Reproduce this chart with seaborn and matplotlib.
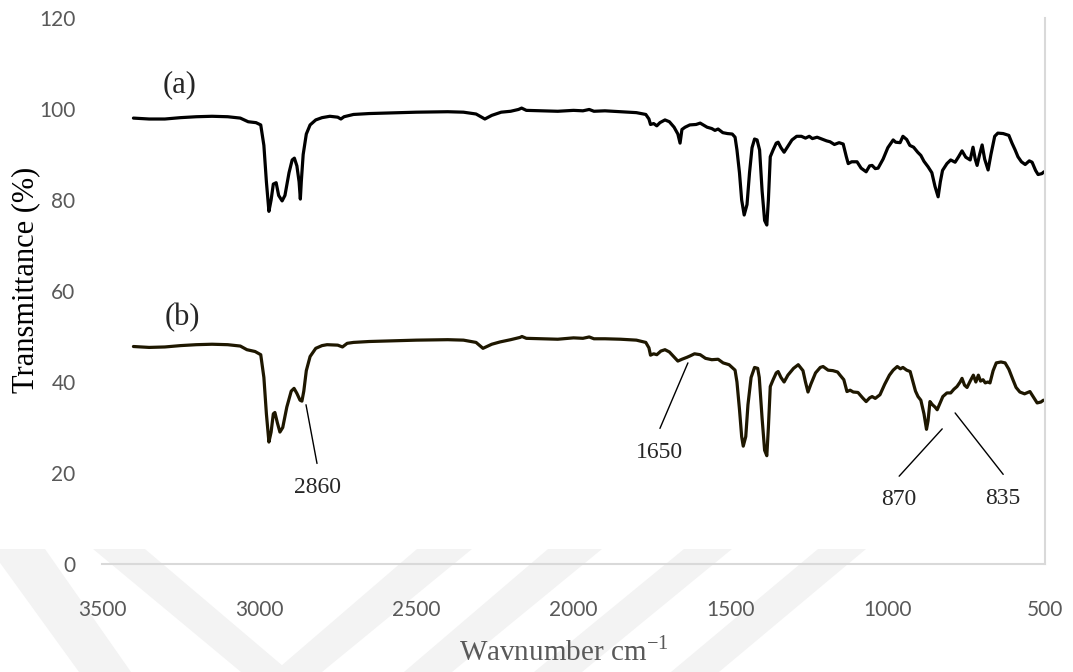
import pandas as pd
import matplotlib.pyplot as plt
import seaborn as sns
from matplotlib.patches import Polygon

# spectrum (a)
wn_a = [3400, 3350, 3300, 3250, 3200, 3150, 3100, 3060, 3035, 3010, 2995, 2985, 2977, 2969, 2962, 2955,
        2946, 2938, 2927, 2918, 2905, 2895, 2888, 2880, 2873, 2869, 2866, 2860, 2850, 2838, 2820, 2800,
        2775, 2750, 2740, 2730, 2700, 2650, 2600, 2500, 2400, 2350, 2310, 2282, 2260, 2230, 2200, 2175,
        2165, 2150, 2100, 2050, 2000, 1970, 1950, 1935, 1900, 1850, 1800, 1770, 1760, 1755, 1745, 1735,
        1725, 1709, 1695, 1680, 1668, 1661, 1655, 1645, 1630, 1610, 1597, 1575, 1560, 1550, 1540, 1525,
        1510, 1495, 1486, 1480, 1472, 1465, 1457, 1448, 1440, 1432, 1424, 1416, 1408, 1400, 1392, 1385,
        1380, 1374, 1365, 1355, 1349, 1340, 1330, 1318, 1305, 1290, 1275, 1262, 1250, 1240, 1225, 1210,
        1195, 1184, 1170, 1155, 1142, 1132, 1126, 1115, 1098, 1085, 1069, 1058, 1050, 1040, 1031, 1015,
        1000, 983, 975, 961, 952, 940, 930, 918, 905, 895, 885, 872, 860, 850, 840, 833,
        826, 812, 800, 786, 775, 764, 752, 738, 729, 722, 716, 708, 700, 692, 681, 672,
        660, 650, 633, 615, 605, 595, 586, 575, 563, 550, 541, 530, 522, 510, 503]
t_a = [98.0, 97.8, 97.8, 98.1, 98.3, 98.4, 98.3, 98.0, 97.2, 97.0, 96.5, 92.0, 84.0, 77.5, 80.0, 83.5,
       83.8, 81.0, 79.8, 81.0, 86.0, 88.8, 89.2, 87.5, 84.0, 80.2, 84.0, 90.0, 94.5, 96.5, 97.6, 98.1,
       98.4, 98.2, 97.8, 98.3, 98.8, 99.0, 99.1, 99.3, 99.4, 99.3, 98.9, 97.8, 98.6, 99.3, 99.5, 99.9,
       100.2, 99.7, 99.6, 99.5, 99.7, 99.6, 99.9, 99.5, 99.6, 99.4, 99.2, 98.8, 97.8, 96.6, 96.8, 96.3,
       97.0, 97.6, 97.2, 96.0, 94.5, 92.5, 95.5, 96.0, 96.5, 96.6, 96.9, 96.0, 95.7, 95.3, 95.6, 94.8,
       94.6, 94.5, 93.8, 91.0, 86.0, 80.0, 76.7, 79.0, 86.0, 91.5, 93.4, 93.2, 91.0, 82.0, 75.5, 74.5,
       80.0, 89.5, 91.0, 92.5, 92.7, 91.5, 90.5, 91.8, 93.2, 94.0, 94.0, 93.6, 94.0, 93.5, 93.8, 93.4,
       93.0, 92.8, 92.2, 92.6, 92.3, 89.5, 88.0, 88.4, 88.4, 87.0, 86.2, 87.5, 87.6, 86.9, 87.0, 89.0,
       91.5, 93.2, 92.7, 92.6, 94.0, 93.3, 92.0, 91.6, 90.5, 89.8, 88.5, 87.3, 86.0, 83.0, 80.7, 84.0,
       86.5, 88.0, 88.8, 88.3, 89.5, 90.8, 89.4, 88.8, 91.6, 89.0, 87.6, 90.0, 92.1, 89.0, 86.6, 90.0,
       94.0, 94.7, 94.6, 94.2, 92.5, 91.0, 89.5, 88.4, 87.8, 88.6, 88.3, 86.5, 85.6, 85.8, 86.2]

# spectrum (b)
wn_b = [3400, 3350, 3300, 3250, 3200, 3150, 3100, 3060, 3039, 3013, 2995, 2985, 2977, 2969, 2962, 2955,
        2950, 2942, 2934, 2925, 2912, 2898, 2889, 2880, 2870, 2864, 2858, 2850, 2838, 2820, 2800, 2784,
        2750, 2735, 2720, 2700, 2650, 2600, 2500, 2400, 2350, 2310, 2288, 2260, 2234, 2200, 2170, 2164,
        2150, 2100, 2050, 2000, 1970, 1950, 1935, 1900, 1850, 1800, 1770, 1760, 1755, 1745, 1735, 1722,
        1709, 1695, 1680, 1668, 1655, 1640, 1630, 1615, 1597, 1580, 1560, 1540, 1524, 1505, 1486, 1480,
        1472, 1465, 1460, 1452, 1445, 1435, 1424, 1414, 1409, 1400, 1392, 1385, 1380, 1374, 1365, 1355,
        1349, 1340, 1330, 1318, 1300, 1285, 1270, 1262, 1254, 1245, 1230, 1215, 1206, 1190, 1175, 1160,
        1152, 1140, 1130, 1120, 1110, 1095, 1080, 1069, 1058, 1050, 1040, 1025, 1010, 995, 983, 970,
        960, 952, 940, 929, 920, 912, 904, 895, 885, 877, 872, 866, 858, 850, 843, 835,
        825, 812, 800, 790, 780, 770, 764, 756, 748, 738, 728, 720, 712, 705, 697, 690,
        682, 675, 665, 655, 640, 627, 615, 602, 592, 580, 565, 548, 535, 525, 513, 505]
t_b = [47.8, 47.6, 47.7, 48.0, 48.2, 48.3, 48.2, 47.9, 47.1, 46.7, 46.0, 41.0, 33.0, 26.8, 29.0, 33.0,
       33.3, 31.0, 29.0, 30.0, 34.5, 38.0, 38.6, 37.5, 36.0, 35.8, 38.0, 42.5, 45.6, 47.4, 48.0, 48.2,
       48.1, 47.7, 48.5, 48.7, 48.9, 49.0, 49.2, 49.3, 49.2, 48.7, 47.4, 48.3, 48.8, 49.3, 49.8, 50.0,
       49.6, 49.5, 49.4, 49.7, 49.6, 49.9, 49.5, 49.5, 49.4, 49.2, 48.7, 47.5, 45.9, 46.2, 46.0, 46.8,
       47.1, 46.6, 45.5, 44.6, 45.0, 45.4, 45.7, 46.2, 46.0, 45.2, 44.9, 45.0, 44.2, 43.8, 42.6, 40.0,
       34.0, 28.0, 25.9, 28.0, 35.0, 41.0, 43.2, 43.0, 41.0, 32.0, 25.0, 23.8, 30.0, 39.0, 40.5, 42.0,
       42.3, 41.0, 40.0, 41.5, 43.0, 43.8, 42.5, 40.0, 37.8, 39.5, 42.0, 43.2, 43.4, 42.6, 42.5, 42.2,
       41.5, 40.5, 37.9, 38.2, 37.8, 37.7, 36.5, 35.7, 36.5, 36.8, 36.4, 37.2, 39.5, 41.5, 42.6, 43.4,
       42.9, 43.2, 42.6, 42.3, 40.0, 38.0, 36.8, 36.0, 33.0, 29.6, 31.5, 35.7, 35.0, 34.5, 33.9, 35.2,
       36.8, 37.6, 37.6, 38.4, 39.0, 40.0, 40.8, 39.3, 38.8, 40.2, 41.5, 40.0, 41.5, 40.2, 40.5, 39.8,
       40.0, 39.8, 42.5, 44.2, 44.4, 44.2, 42.8, 40.5, 38.8, 37.8, 37.4, 37.9, 36.5, 35.4, 35.6, 36.0]

# band labels: text, line start (x, y), text position (x, y)
band_labels = ["2860", "1650", "870", "835"]
line_start = [(2851, 35.0), (1636, 44.2), (827, 29.7), (786, 33.2)]
text_pos = [(2816, 16.9), (1725, 24.6), (964, 14.1), (633, 14.5)]

df_a = pd.DataFrame({"wn": wn_a, "T": t_a})
df_b = pd.DataFrame({"wn": wn_b, "T": t_b})

sns.set_style("white")
plt.rcParams["font.family"] = ["Liberation Serif", "DejaVu Serif"]

fig = plt.figure(figsize=(10.73, 6.72), dpi=100)

# faint watermark bands at the bottom (pixel coords of the page)
W, H = 1073, 672
bands = [[(-10, 549), (45, 549), (131, 672), (79, 672)],
         [(93, 549), (145, 549), (290, 672), (241, 672)],
         [(417, 549), (472, 549), (322, 672), (274, 672)],
         [(548, 549), (602, 549), (452, 672), (404, 672)],
         [(684, 549), (732, 549), (582, 672), (534, 672)],
         [(818, 549), (866, 549), (719, 672), (671, 672)]]
for b in bands:
    pts = [(x / W, 1 - y / H) for x, y in b]
    fig.add_artist(Polygon(pts, closed=True, transform=fig.transFigure,
                           facecolor="#f3f3f3", edgecolor="none", zorder=0))

ax = fig.add_axes([102 / W, 1 - 564 / H, 943 / W, 546 / H])
ax.patch.set_alpha(0)

sns.lineplot(data=df_a, x="wn", y="T", ax=ax, sort=False, estimator=None,
             color="black", linewidth=2.3)
sns.lineplot(data=df_b, x="wn", y="T", ax=ax, sort=False, estimator=None,
             color="#1e1700", linewidth=2.3)

ax.set_xlim(3500, 500)
ax.set_ylim(0, 120)
ax.set_xticks([3500, 3000, 2500, 2000, 1500, 1000, 500])
ax.set_yticks([0, 20, 40, 60, 80, 100, 120])

for lab in ax.get_xticklabels() + ax.get_yticklabels():
    lab.set_family("Lato")
    lab.set_fontsize(15)
    lab.set_color("#595959")
ax.tick_params(axis="x", length=0, pad=26)
ax.tick_params(axis="y", length=0, pad=19)

for s in ["top", "left"]:
    ax.spines[s].set_visible(False)
for s in ["bottom", "right"]:
    ax.spines[s].set_color("#d9d9d9")
    ax.spines[s].set_linewidth(1.5)

ax.set_ylabel("Transmittance (%)", fontsize=22, color="black")
ax.yaxis.set_label_coords(-0.066, 0.52)
ax.set_xlabel(r"Wavnumber cm$^{\mathregular{-1}}$", fontsize=21, color="#595959")
ax.xaxis.set_label_coords(0.49, -0.133)

ax.text(3252, 105.3, "(a)", fontsize=22, ha="center", va="center")
ax.text(3245, 54.1, "(b)", fontsize=22, ha="center", va="center")

for lab, (x0, y0), (x1, y1) in zip(band_labels, line_start, text_pos):
    ax.plot([x0, x1], [y0, y1 + 5.2], color="black", linewidth=1)
    ax.text(x1, y1, lab, fontsize=17, ha="center", va="center")

fig.savefig("out.png", dpi=100)
